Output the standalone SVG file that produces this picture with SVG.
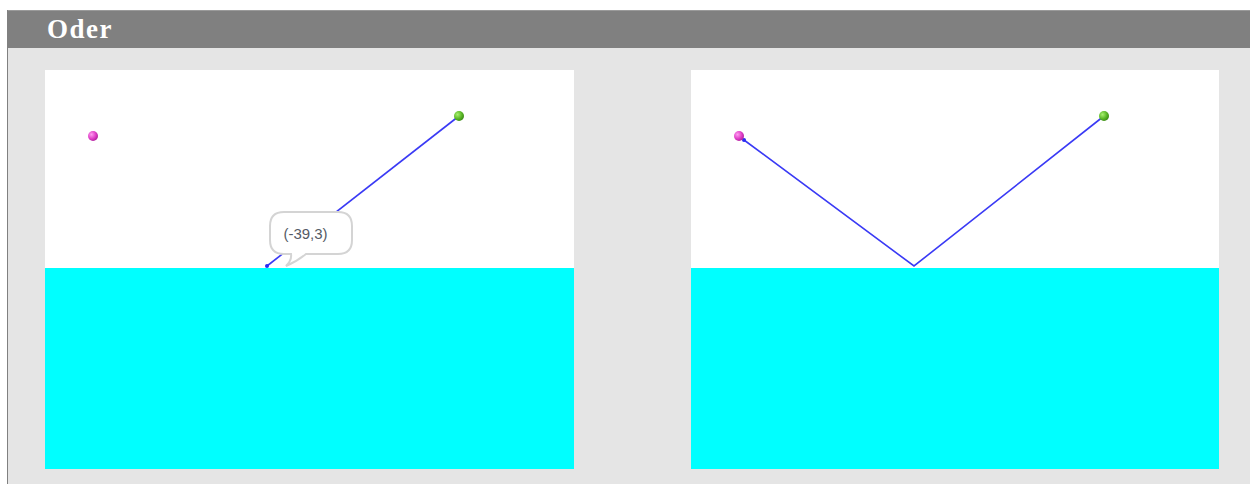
<svg xmlns="http://www.w3.org/2000/svg" width="1250" height="484" viewBox="0 0 1250 484">
<defs>
<style>
.ray{stroke:#3a3af5;stroke-width:1.6;fill:none}
.sky{fill:#ffffff}
.water{fill:#00ffff}
</style>
<radialGradient id="pink" cx="0.35" cy="0.35" r="0.7"><stop offset="0" stop-color="#ff9cf0"/><stop offset="0.6" stop-color="#e040c8"/><stop offset="1" stop-color="#b0209c"/></radialGradient>
<radialGradient id="green" cx="0.35" cy="0.35" r="0.7"><stop offset="0" stop-color="#a8f070"/><stop offset="0.6" stop-color="#5cb828"/><stop offset="1" stop-color="#3a8a14"/></radialGradient>
<marker id="dot" markerWidth="6" markerHeight="6" refX="3" refY="3" markerUnits="userSpaceOnUse"><circle cx="3" cy="3" r="2" fill="#2a2af0"/></marker>
</defs>
<rect x="0" y="0" width="1250" height="484" fill="#ffffff"/>
<rect x="7" y="10" width="1243" height="474" fill="#e5e5e5"/>
<rect x="7" y="10" width="1243" height="38" fill="#808080"/>
<rect x="7" y="10" width="1243" height="1" fill="#9a9a9a"/>
<rect x="7" y="10" width="1" height="474" fill="#808080"/>
<text x="47" y="38" font-family="'Liberation Serif', serif" font-weight="bold" font-size="27" letter-spacing="1.5" fill="#ffffff">Oder</text>
<g id="panel-left">
<rect class="sky" x="45" y="70" width="529" height="198"/>
<rect class="water" x="45" y="268" width="529" height="201"/>
</g>
<g id="panel-right">
<rect class="sky" x="691" y="70" width="528" height="198"/>
<rect class="water" x="691" y="268" width="528" height="201"/>
</g>
<g id="connectors">
<line class="ray" x1="459" y1="116" x2="267" y2="266" marker-end="url(#dot)"/>
<polyline class="ray" points="1104,116 914,266 744,140" marker-end="url(#dot)"/>
</g>
<g id="tooltip">
<path d="M284,212 H338 Q352,212 352,226 V240 Q352,254 338,254 H306 Q296,262 286,266 Q292,260 291,254 H284 Q270,254 270,240 V226 Q270,212 284,212 Z" fill="#ffffff" stroke="#d4d4d4" stroke-width="2"/>
<text x="305.5" y="239" text-anchor="middle" font-family="'Liberation Sans', Arial, sans-serif" font-size="15" fill="#555a66">(-39,3)</text>
</g>
<g id="pink-left"><circle cx="93" cy="136" r="5" fill="url(#pink)"/></g>
<g id="green-left"><circle cx="459" cy="116" r="5" fill="url(#green)"/></g>
<g id="pink-right"><circle cx="739" cy="136" r="5" fill="url(#pink)"/></g>
<g id="green-right"><circle cx="1104" cy="116" r="5" fill="url(#green)"/></g>
</svg>
